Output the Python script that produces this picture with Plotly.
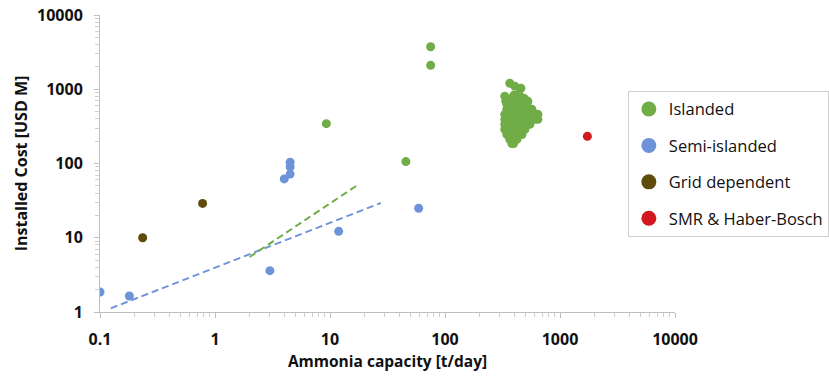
import plotly.graph_objects as go

# ---------------- data ----------------
islanded_x = [9.3, 45.7, 75, 75,
              366, 405, 457, 331, 338, 397, 439, 485, 525,
              366, 405, 448, 495,
              345, 381, 422, 467, 515,
              345, 381, 422, 467, 515, 570,
              331, 366, 405, 448, 495, 547, 605, 642,
              331, 366, 405, 448, 495, 547, 605, 642,
              331, 366, 405, 448, 495, 547,
              331, 366, 405, 448, 495,
              345, 381, 422, 467,
              366, 405, 422,
              381, 395]
islanded_y = [344, 106, 3730, 2100,
              1205, 1099, 1032, 804, 689, 830, 856, 755, 689,
              733, 733, 733, 733,
              627, 627, 627, 627, 627,
              537, 537, 537, 537, 537, 537,
              459, 459, 459, 459, 459, 459, 459, 459,
              393, 393, 393, 393, 393, 393, 393, 393,
              337, 337, 337, 337, 337, 337,
              288, 288, 288, 288, 288,
              246, 246, 246, 246,
              211, 211, 211,
              186, 186]

semi_x = [0.1, 0.18, 3.0, 4.0, 4.5, 4.5, 4.5, 11.9, 59]
semi_y = [1.86, 1.64, 3.6, 62, 72, 90, 104, 12.2, 25]

grid_x = [0.235, 0.78]
grid_y = [10, 29]

smr_x = [1730]
smr_y = [232]

trend_semi_x = [0.124, 27.6]
trend_semi_y = [1.12, 29.4]
trend_isl_x = [2.0, 17.6]
trend_isl_y = [5.5, 52]

names = ["Islanded", "Semi-islanded", "Grid dependent", "SMR &amp; Haber-Bosch"]
colors = ["#70ad47", "#6f93d8", "#5f4b0b", "#d2191f"]

x_ticks = [0.1, 1, 10, 100, 1000, 10000]
x_ticklabels = ["0.1", "1", "10", "100", "1000", "10000"]
y_ticks = [1, 10, 100, 1000, 10000]
y_ticklabels = ["1", "10", "100", "1000", "10000"]

# ---------------- figure ----------------
fig = go.Figure()

# trendlines
fig.add_trace(go.Scatter(x=trend_semi_x, y=trend_semi_y, mode="lines",
                         line=dict(color=colors[1], width=2, dash="7px,4px"),
                         showlegend=False, hoverinfo="skip"))
fig.add_trace(go.Scatter(x=trend_isl_x, y=trend_isl_y, mode="lines",
                         line=dict(color=colors[0], width=2, dash="7px,4px"),
                         showlegend=False, hoverinfo="skip"))

series = [(islanded_x, islanded_y), (semi_x, semi_y), (grid_x, grid_y), (smr_x, smr_y)]
for (sx, sy), c in zip(series, colors):
    fig.add_trace(go.Scatter(x=sx, y=sy, mode="markers",
                             marker=dict(color=c, size=9, line=dict(width=0)),
                             showlegend=False))

# legend entries
for i, (n, c) in enumerate(zip(names, colors)):
    fig.add_trace(go.Scatter(x=[None], y=[None], mode="markers", name=n,
                             legendgroup="g%d" % i,
                             marker=dict(color=c, size=15, line=dict(width=0))))

axis_common = dict(
    type="log",
    showline=True, linecolor="#bfbfbf", linewidth=1,
    showgrid=False, zeroline=False,
    ticks="outside", ticklen=5, tickcolor="#bfbfbf", tickwidth=1,
    minor=dict(ticks="outside", ticklen=4, tickcolor="#d0d0d0", dtick="D1", showgrid=False),
    tickfont=dict(family="Open Sans", size=16, color="#111111", weight="bold"),
    automargin=True,
)

fig.update_xaxes(axis_common, range=[-1, 4], tickvals=x_ticks, ticktext=x_ticklabels,
                 ticklabelstandoff=8,
                 title=dict(text="<b>Ammonia capacity [t/day]</b>", standoff=4,
                            font=dict(family="Open Sans", size=15.5, color="#111111")))
fig.update_yaxes(axis_common, range=[0, 4], tickvals=y_ticks, ticktext=y_ticklabels,
                 ticklabelstandoff=8,
                 title=dict(text="<b>Installed Cost [USD M]</b>", standoff=5,
                            font=dict(family="Open Sans", size=16, color="#111111")))

fig.update_layout(
    width=829, height=377,
    margin=dict(l=100, r=154, t=15, b=65, autoexpand=False),
    plot_bgcolor="white", paper_bgcolor="white",
    font=dict(family="Open Sans", color="#111111"),
    legend=dict(x=0.918, y=0.745, xanchor="left", yanchor="top",
                bordercolor="#d0d0d0", borderwidth=1, bgcolor="white",
                font=dict(family="Open Sans", size=16.5, color="#111111"),
                tracegroupgap=12, itemsizing="trace"),
)

fig.write_html("out.html", config={"displayModeBar": False},
               post_script="document.body.style.margin='0';")
